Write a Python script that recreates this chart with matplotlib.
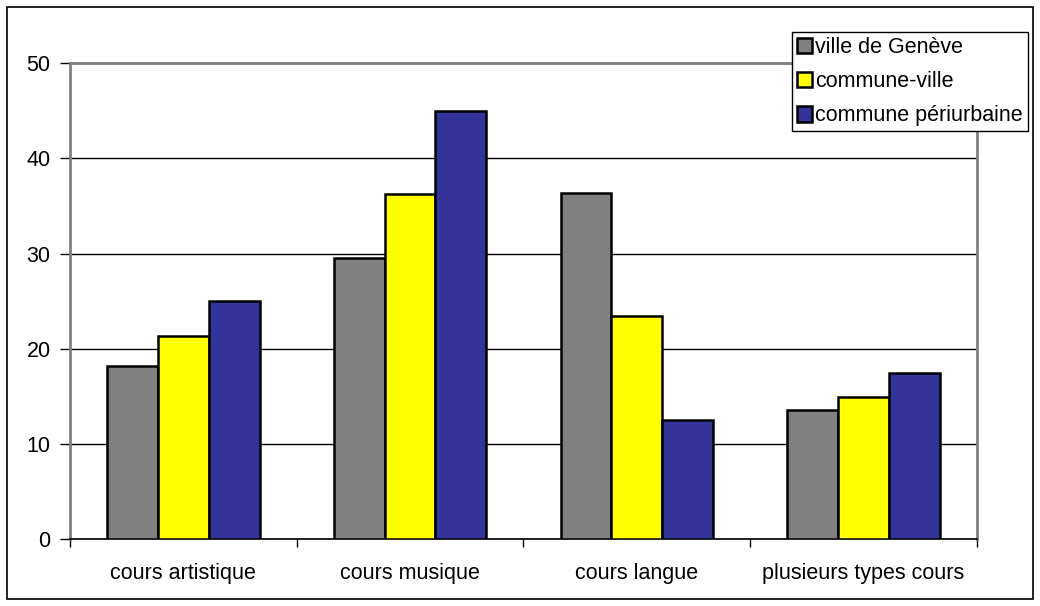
import numpy as np
import matplotlib.pyplot as plt
from matplotlib.patches import Rectangle

categories = ["cours artistique", "cours musique", "cours langue", "plusieurs types cours"]
series = ["ville de Genève", "commune-ville", "commune périurbaine"]
geneve = [18.2, 29.5, 36.4, 13.6]
commune_ville = [21.3, 36.2, 23.4, 14.9]
periurbaine = [25.0, 45.0, 12.5, 17.5]
colors = ["#808080", "#ffff00", "#333399"]

plt.rcParams['font.family'] = ['Liberation Sans', 'DejaVu Sans']

fig = plt.figure(figsize=(10.4, 6.06), dpi=100)
ax = fig.add_axes([70 / 1040, 1 - 539.3 / 606, (976.7 - 70) / 1040, (539.3 - 63) / 606])

x = np.arange(len(categories))
w = 0.224
for i, (vals, lab, col) in enumerate(zip([geneve, commune_ville, periurbaine], series, colors)):
    ax.bar(x + (i - 1) * w, vals, w, color=col, edgecolor="black", linewidth=1.8,
           label=lab, zorder=3)

ax.set_xlim(-0.5, len(categories) - 0.5)
ax.set_ylim(0, 50)
ax.set_yticks([0, 10, 20, 30, 40, 50])
ax.tick_params(axis='y', labelsize=15.5, length=7, width=1, direction='out', pad=7)
ax.set_xticks(x)
ax.set_xticklabels(categories)
ax.set_xticks(np.arange(len(categories) + 1) - 0.5, minor=True)
ax.tick_params(axis='x', which='major', length=0, labelsize=15.5, pad=17)
ax.tick_params(axis='x', which='minor', length=6, width=1, direction='out')
ax.yaxis.grid(True, color="black", linewidth=1, zorder=0)
ax.set_axisbelow(True)

for s in ["left", "top", "right"]:
    ax.spines[s].set_color("#808080")
    ax.spines[s].set_linewidth(2)
ax.spines["bottom"].set_color("black")
ax.spines["bottom"].set_linewidth(1.2)

leg = ax.legend(loc="upper left", bbox_to_anchor=(792 / 1040, 1 - 32 / 606),
                bbox_transform=fig.transFigure, fontsize=15.5, frameon=True,
                fancybox=False, framealpha=1, edgecolor="black",
                handlelength=0.72, handleheight=0.72, handletextpad=0.15,
                borderpad=0.22, labelspacing=0.62, borderaxespad=0)
leg.get_frame().set_linewidth(1)
for h in leg.legend_handles:
    h.set_linewidth(1.8)

fig.patches.append(Rectangle((7 / 1040, 7 / 606), 1026 / 1040, 592 / 606,
                             transform=fig.transFigure, fill=False,
                             edgecolor="black", linewidth=1.2))

plt.savefig("out.png", dpi=100)
